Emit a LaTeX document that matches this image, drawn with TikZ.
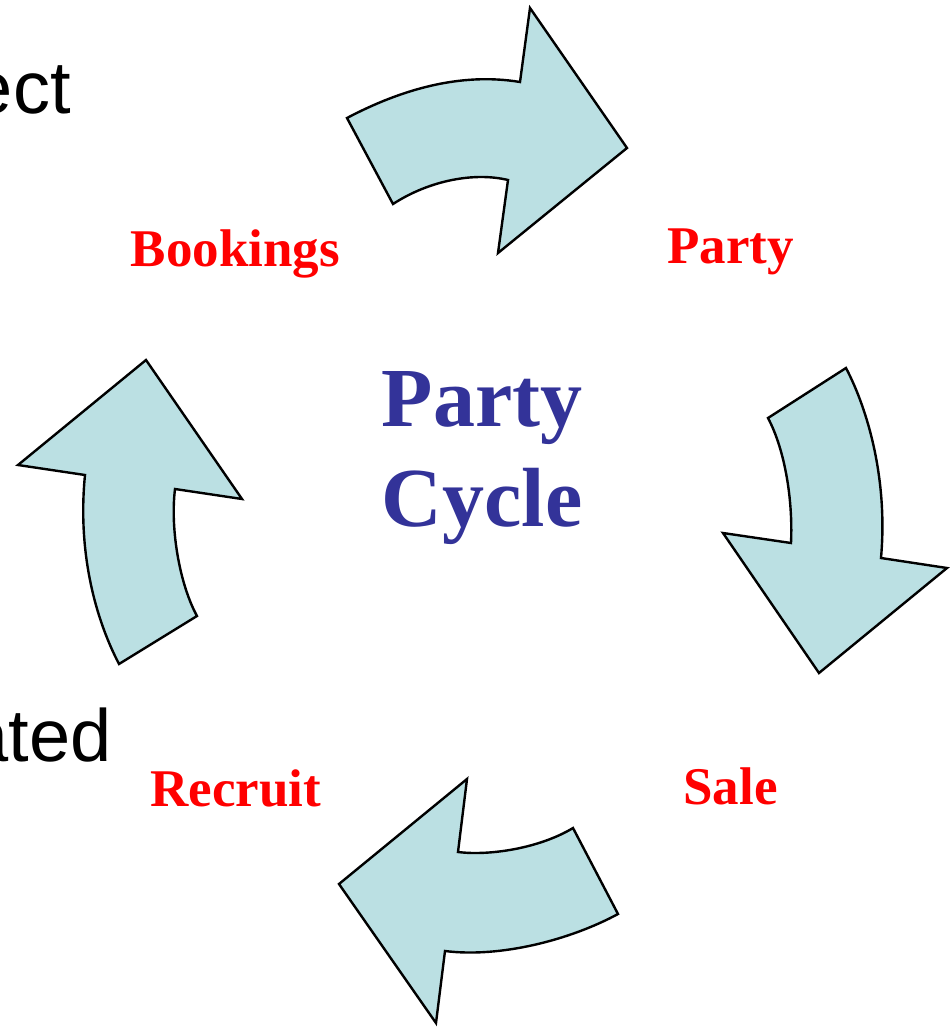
\documentclass[tikz,border=0pt]{standalone}
\usepackage{fontspec}
\setmainfont{Liberation Serif}
\setsansfont{Liberation Sans}
\usepackage{xcolor}
\usepackage{tikz}
\usetikzlibrary{positioning}
\definecolor{arrowfill}{HTML}{BBE0E3}
\definecolor{cycleblue}{HTML}{333399}

\begin{document}
\begin{tikzpicture}[x=0.5pt, y=-0.5pt,
        bigarrow/.style={fill=arrowfill, draw=black, line width=1.2pt, line join=miter},
        stage/.style={text=red, font=\fontsize{26.5}{30}\selectfont\bfseries, anchor=base, inner sep=0pt},
        title/.style={text=cycleblue, font=\fontsize{42}{50}\selectfont\bfseries, align=center, inner sep=0pt},
        cut/.style={font=\sffamily\fontsize{37}{44}\selectfont, anchor=base east, inner sep=0pt}]
        \clip (0,0) rectangle (952,1029);

        % words running in from the left margin
        \node[cut] (ect) at (71,113) {ect};
        \node[cut] (ated) at (112,761) {ated};

        % the four curved block arrows, clockwise
        \draw[bigarrow] (347,118) .. controls (400,90) and (460,72) .. (520,82) -- (530,8) -- (627,148)
            -- (498,253) -- (508,180) .. controls (475,172) and (430,180) .. (393,204) -- cycle;
        \draw[bigarrow] (846,368) .. controls (868,410) and (888,480) .. (881,558) -- (947,568) -- (819,673)
            -- (723,533) -- (791,543) .. controls (793,500) and (785,450) .. (768,418) -- cycle;
        \draw[bigarrow] (618,914) .. controls (570,940) and (500,958) .. (445,951) -- (436,1023) -- (339,884)
            -- (467,779) -- (458,852) .. controls (490,856) and (540,848) .. (573,828) -- cycle;
        \draw[bigarrow] (119,664) .. controls (92,612) and (78,545) .. (85,475) -- (18,465) -- (146,360)
            -- (242,499) -- (175,489) .. controls (170,530) and (180,585) .. (197,616) -- cycle;

        \node[stage] (bookings) at (235.5,266) {Bookings};
        \node[stage] (party) at (730.5,263) {Party};
        \node[stage] (sale) at (730.5,804) {Sale};
        \node[stage] (recruit) at (236,806) {Recruit};

        \node[title] (cycle) at (482,458) {Party\\Cycle};
    \end{tikzpicture}
\end{document}
